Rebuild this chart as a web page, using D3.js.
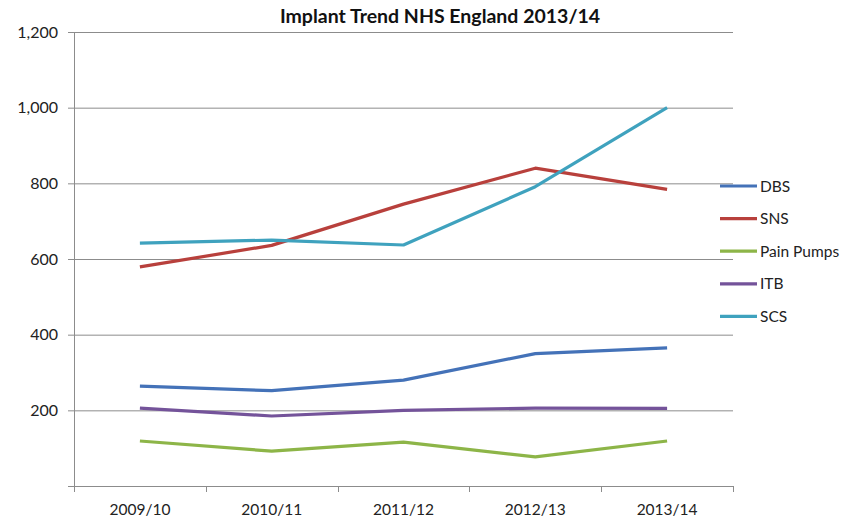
<!DOCTYPE html>
<html>
<head>
<meta charset="utf-8">
<script src="https://cdn.jsdelivr.net/npm/d3@7"></script>
<style>
  body { margin: 0; background: #fff; }
  text { font-family: Lato, "Open Sans", sans-serif; }
</style>
</head>
<body>
<div id="chart"></div>
<script>
var years = ["2009/10", "2010/11", "2011/12", "2012/13", "2013/14"];
var seriesNames = ["DBS", "SNS", "Pain Pumps", "ITB", "SCS"];
var seriesColors = ["#4472B8", "#B8403C", "#8DB548", "#74539A", "#3FA2BE"];
var dbs = [264, 252, 280, 350, 365];
var sns = [579, 636, 745, 840, 784];
var painPumps = [119, 92, 116, 77, 119];
var itb = [206, 185, 200, 206, 205];
var scs = [642, 650, 637, 791, 1000];
var yTicks = [0, 200, 400, 600, 800, 1000, 1200];

var seriesValues = [dbs, sns, painPumps, itb, scs];

var svgWidth = 859, svgHeight = 520;
var margin = { top: 32, right: 126, bottom: 34, left: 74 };
var width = svgWidth - margin.left - margin.right;
var height = svgHeight - margin.top - margin.bottom;

var svg = d3.select("#chart").append("svg")
  .attr("width", svgWidth)
  .attr("height", svgHeight);

var chartGroup = svg.append("g")
  .attr("transform", `translate(${margin.left}, ${margin.top})`);

var xScale = d3.scaleBand().domain(years).range([0, width]);
var yScale = d3.scaleLinear().domain([0, 1200]).range([height, 0]);

// gridlines
chartGroup.append("g")
  .selectAll("line")
  .data(yTicks.slice(1))
  .enter()
  .append("line")
  .attr("x1", 0)
  .attr("x2", width)
  .attr("y1", d => yScale(d) + 0.5)
  .attr("y2", d => yScale(d) + 0.5)
  .attr("stroke", "#8c8c8c")
  .attr("stroke-width", 1);

// y axis
var leftAxis = d3.axisLeft(yScale)
  .tickValues(yTicks)
  .tickSize(6)
  .tickPadding(10)
  .tickFormat(d => d === 0 ? "" : d3.format(",")(d));

var yAxis = chartGroup.append("g").call(leftAxis);
yAxis.select(".domain").attr("stroke", "#8c8c8c").attr("d", `M0.5,0V${height}`);
yAxis.selectAll(".tick line").attr("stroke", "#8c8c8c");
yAxis.selectAll("text").attr("font-size", 16).attr("fill", "#222");

// x axis
var bottomAxis = d3.axisBottom(xScale).tickSize(0).tickPadding(18);
var xAxis = chartGroup.append("g")
  .attr("transform", `translate(0, ${height})`)
  .call(bottomAxis);
xAxis.select(".domain").attr("stroke", "#8c8c8c").attr("d", `M0,0.5H${width}`);
xAxis.selectAll("text").attr("font-size", 15.5).attr("fill", "#222");

// x ticks between categories
xAxis.append("g")
  .selectAll("line")
  .data(d3.range(years.length + 1))
  .enter()
  .append("line")
  .attr("x1", i => Math.round(i * xScale.bandwidth()) + 0.5)
  .attr("x2", i => Math.round(i * xScale.bandwidth()) + 0.5)
  .attr("y1", 0)
  .attr("y2", 6)
  .attr("stroke", "#8c8c8c");

// lines
var line = d3.line()
  .x((d, i) => xScale(years[i]) + xScale.bandwidth() / 2)
  .y(d => yScale(d));

chartGroup.append("g")
  .selectAll("path")
  .data(seriesValues)
  .enter()
  .append("path")
  .attr("d", d => line(d))
  .attr("fill", "none")
  .attr("stroke", (d, i) => seriesColors[i])
  .attr("stroke-width", 3.2)
  .attr("stroke-linejoin", "round");

// title
svg.append("text")
  .attr("x", 440)
  .attr("y", 23)
  .attr("text-anchor", "middle")
  .attr("font-size", 19.5)
  .attr("font-weight", "bold")
  .attr("fill", "#111")
  .text("Implant Trend NHS England 2013/14");

// legend
var legend = svg.append("g")
  .selectAll("g")
  .data(seriesNames)
  .enter()
  .append("g")
  .attr("transform", (d, i) => `translate(720, ${186 + i * 32.6})`);

legend.append("line")
  .attr("x1", 0)
  .attr("x2", 37)
  .attr("stroke", (d, i) => seriesColors[i])
  .attr("stroke-width", 3.2);

legend.append("text")
  .attr("x", 40)
  .attr("y", 5.5)
  .attr("font-size", 15.5)
  .attr("fill", "#222")
  .text(d => d);
</script>
</body>
</html>
